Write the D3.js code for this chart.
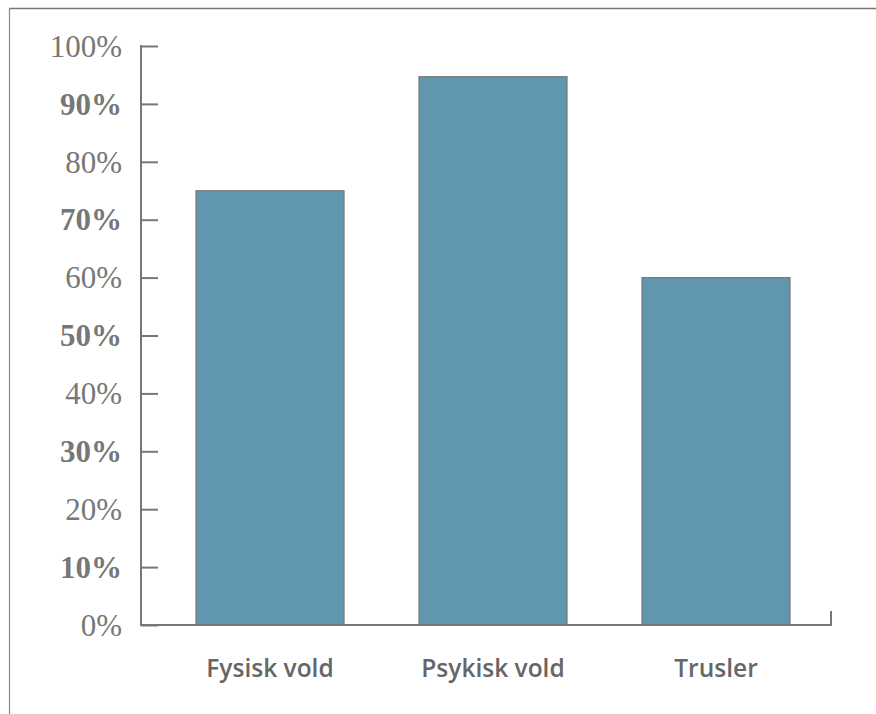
<!DOCTYPE html>
<html><head><meta charset="utf-8">
<script src="https://cdn.jsdelivr.net/npm/d3@7"></script>
<style>html,body{margin:0;padding:0;background:#fff;}</style>
</head><body>
<svg id="chart" width="876" height="714"></svg>
<script>
const categories = ["Fysisk vold", "Psykisk vold", "Trusler"];
const values = [75, 94.7, 60];
const yTicks = [0, 10, 20, 30, 40, 50, 60, 70, 80, 90, 100];
const boldTicks = [10, 30, 50, 70, 90];

const svg = d3.select("#chart");
// outer frame (top and left edges)
svg.append("line").attr("x1", 9).attr("x2", 876).attr("y1", 8.5).attr("y2", 8.5)
  .attr("stroke", "#777").attr("stroke-width", 1.5);
svg.append("line").attr("x1", 9.5).attr("x2", 9.5).attr("y1", 8).attr("y2", 714)
  .attr("stroke", "#888").attr("stroke-width", 1.2);

const y = d3.scaleLinear().domain([0, 100]).range([625, 46]);
const x = d3.scaleBand().domain(categories).range([158.5, 827.5])
  .paddingInner(0.336).paddingOuter(0.168);

// bars
svg.selectAll("rect.bar").data(categories).enter().append("rect")
  .attr("class", "bar")
  .attr("x", d => x(d))
  .attr("width", x.bandwidth())
  .attr("y", (d, i) => y(values[i]))
  .attr("height", (d, i) => y(0) - y(values[i]))
  .attr("fill", "#6096ae")
  .attr("stroke", "#7a7a7a")
  .attr("stroke-width", 1.2);

// y axis
const yAxis = d3.axisRight(y).tickValues(yTicks).tickSize(17).tickFormat(d => d + "%");
const gy = svg.append("g").attr("transform", "translate(141,0)").call(yAxis);
gy.select(".domain").remove();
gy.selectAll(".tick line").attr("stroke", "#777").attr("stroke-width", 2);
gy.selectAll(".tick text")
  .attr("x", -19).attr("text-anchor", "end").attr("dy", "0.33em")
  .attr("font-family", "'Liberation Serif', serif")
  .attr("font-size", 31)
  .attr("font-weight", d => boldTicks.includes(d) ? "bold" : "normal")
  .attr("fill", "#777");
svg.append("line").attr("x1", 141).attr("x2", 141).attr("y1", y(100) - 1).attr("y2", y(0) + 1)
  .attr("stroke", "#777").attr("stroke-width", 2);

// x axis
const xAxisLine = svg.append("g");
xAxisLine.append("line").attr("x1", 140).attr("x2", 832).attr("y1", y(0)).attr("y2", y(0))
  .attr("stroke", "#777").attr("stroke-width", 2);
xAxisLine.append("line").attr("x1", 831).attr("x2", 831).attr("y1", y(0)).attr("y2", y(0) - 14)
  .attr("stroke", "#777").attr("stroke-width", 2);

const xAxis = d3.axisBottom(x).tickSize(0).tickPadding(0);
const gx = svg.append("g").attr("transform", "translate(0,677)").call(xAxis);
gx.select(".domain").remove();
gx.selectAll(".tick text")
  .attr("y", 0).attr("dy", "0")
  .attr("font-family", "'Open Sans', sans-serif")
  .attr("font-size", 24.5)
  .attr("font-weight", 600)
  .attr("fill", "#666");
</script>
</body></html>
